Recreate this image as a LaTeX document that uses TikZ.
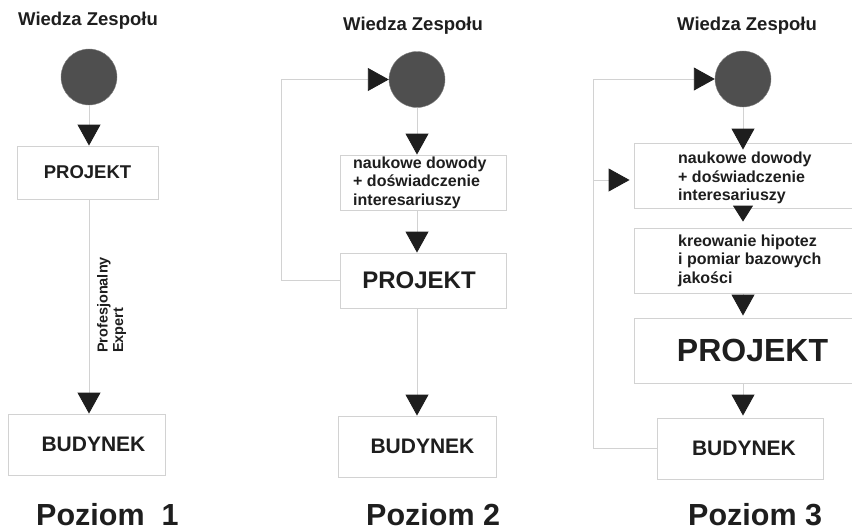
\documentclass[tikz,border=0pt]{standalone}
\usepackage{fontspec}
\setmainfont{Liberation Sans}
\usetikzlibrary{arrows.meta}
\definecolor{lgray}{HTML}{D2D2D2}
\definecolor{ink}{HTML}{1E1E1E}
\definecolor{dotc}{HTML}{4F4F4F}
\begin{document}
\begin{tikzpicture}[x=1pt,y=-1pt,
  conn/.style={draw=lgray, line width=0.9pt},
  arr/.style={conn, -{Triangle[width=23pt,length=21pt,color=ink,fill=ink]}},
  arrsmall/.style={conn, -{Triangle[width=20pt,length=16pt,color=ink,fill=ink]}},
  box/.style={draw=lgray, line width=0.9pt, fill=white, inner sep=0pt, text=ink},
  dotnode/.style={circle, fill=dotc, draw=dotc!70, minimum size=56pt, inner sep=0pt},
  title/.style={text=ink, font=\bfseries\fontsize{18.5}{20}\selectfont, anchor=base west, inner sep=0pt},
  level/.style={text=ink, font=\bfseries\fontsize{30.5}{32}\selectfont, anchor=base west, inner sep=0pt},
  small/.style={text=ink, font=\bfseries\fontsize{16}{18.5}\selectfont, align=left, anchor=west, inner sep=0pt},
]
\useasboundingbox (0,0) rectangle (852,531);

% ---------- Poziom 1 ----------
\node[title] (t1) at (18,25.5) {Wiedza Zespołu};
\node[dotnode] (c1) at (89,77) {};
\node[box, minimum width=141pt, minimum height=53pt, font=\bfseries\fontsize{18.5}{20}\selectfont] (p1) at (87.5,172.5) {PROJEKT};
\node[box, minimum width=157pt, minimum height=61pt, font=\bfseries\fontsize{21}{23}\selectfont] (b1) at (86.5,444.5) {\hspace*{14pt}BUDYNEK};
\draw[arr] (c1.south) -- (c1.south |- p1.north);
\draw[arr] (p1.south -| c1.south) -- (c1.south |- b1.north);
\node[rotate=90, text=ink, font=\bfseries\fontsize{14.5}{15.5}\selectfont, align=left, inner sep=0pt] (pe) at (111.5,305) {Profesjonalny\\Expert};
\node[level] (l1) at (36,525.5) {Poziom\ \ 1};

% ---------- Poziom 2 ----------
\node[title] (t2) at (343,30.5) {Wiedza Zespołu};
\node[dotnode] (c2) at (417,79.5) {};
\node[box, minimum width=166pt, minimum height=55pt] (e2) at (423,182.5) {};
\node[small] (e2t) at (353,182.5) {naukowe dowody\\+ doświadczenie\\interesariuszy};
\node[box, minimum width=166pt, minimum height=55pt, font=\bfseries\fontsize{24}{26}\selectfont] (p2) at (423,280.5) {\hspace*{-8pt}PROJEKT};
\node[box, minimum width=158pt, minimum height=61pt, font=\bfseries\fontsize{21}{23}\selectfont] (b2) at (417,446.5) {\hspace*{11pt}BUDYNEK};
\draw[arr] (c2.south) -- (c2.south |- e2.north);
\draw[arr] (e2.south -| c2.south) -- (c2.south |- p2.north);
\draw[arr] (p2.south -| c2.south) -- (c2.south |- b2.north);
\draw[arr] (p2.west) -- ++(-58,0) |- (c2.west);
\node[level] (l2) at (366,525.5) {Poziom 2};

% ---------- Poziom 3 ----------
\node[title] (t3) at (677,30.5) {Wiedza Zespołu};
\node[dotnode] (c3) at (743,79) {};
\node[box, minimum width=240pt, minimum height=65pt] (e3) at (754,175.5) {};
\node[small] (e3t) at (678,178) {naukowe dowody\\+ doświadczenie\\interesariuszy};
\node[box, minimum width=240pt, minimum height=65pt] (h3) at (754,260.5) {};
\node[small] (h3t) at (678,260.5) {kreowanie hipotez\\i pomiar bazowych\\jakości};
\node[box, minimum width=240pt, minimum height=65pt, font=\bfseries\fontsize{32}{34}\selectfont] (p3) at (754,350.5) {\hspace*{-3pt}PROJEKT};
\node[box, minimum width=166pt, minimum height=61pt, font=\bfseries\fontsize{21}{23}\selectfont] (b3) at (740,448.5) {\hspace*{8pt}BUDYNEK};
\draw[arr, shorten >=-7pt] (c3.south) -- (c3.south |- e3.north);
\draw[arrsmall, shorten >=6pt] (e3.south -| c3.south) -- (c3.south |- h3.north);
\draw[arr, shorten >=2pt] (h3.south -| c3.south) -- (c3.south |- p3.north);
\draw[arr, shorten >=2pt] (p3.south -| c3.south) -- (c3.south |- b3.north);
\draw[arr] (b3.west) -- ++(-63,0) |- (c3.west);
\coordinate (j3) at (594,180);
\draw[arr, shorten >=4pt] (j3) -- (j3 -| e3.west);
\node[level] (l3) at (688,525.5) {Poziom 3};
\end{tikzpicture}
\end{document}
